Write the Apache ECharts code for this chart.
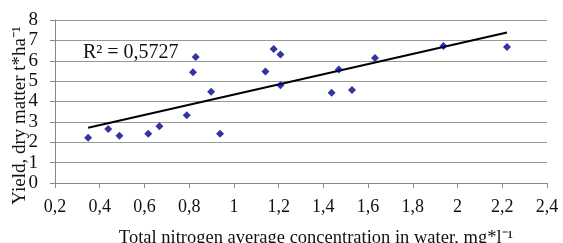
<!DOCTYPE html>
<html>
<head>
<meta charset="utf-8">
<script src="https://cdn.jsdelivr.net/npm/echarts@6/dist/echarts.min.js"></script>
<style>
  html, body { margin: 0; padding: 0; background: #fff; }
  #chart { width: 563px; height: 243px; }
</style>
</head>
<body>
<div id="chart"></div>
<script>
// nitrogen concentration (mg/l) and yield (t/ha)
const nitrogen = [0.348, 0.438, 0.488, 0.617, 0.667, 0.789, 0.817, 0.829, 0.898, 0.938,
  1.141, 1.178, 1.208, 1.208, 1.437, 1.469, 1.528, 1.631, 1.937, 2.221]
const yieldDm = [2.22, 2.65, 2.32, 2.42, 2.79, 3.33, 5.44, 6.19, 4.48, 2.42,
  5.47, 6.58, 6.31, 4.80, 4.43, 5.57, 4.56, 6.14, 6.73, 6.67]
// linear trend line end points
const trendX = [0.348, 2.221]
const trendY = [2.71, 7.39]
const r2Label = 'R² = 0,5727'

const points = nitrogen.map((x, i) => [x, yieldDm[i]])
const trend = trendX.map((x, i) => [x, trendY[i]])

const font = '"Liberation Serif", "Times New Roman", serif'
const chart = echarts.init(document.getElementById('chart'))

chart.setOption({
  animation: false,
  grid: { left: 55, right: 16, top: 20, bottom: 60, containLabel: false, outerBoundsMode: 'none' },
  xAxis: {
    type: 'value',
    min: 0.2,
    max: 2.4,
    interval: 0.2,
    name: 'Total nitrogen average concentration in water, mg*l⁻¹',
    nameLocation: 'middle',
    nameGap: 46,
    nameMoveOverlap: false,
    nameTextStyle: { fontFamily: font, fontSize: 18.5, color: '#111', padding: [0, 0, 0, 30] },
    axisLine: { show: true, lineStyle: { color: '#888' } },
    axisTick: { show: true, length: 5, lineStyle: { color: '#888' } },
    splitLine: { show: false },
    axisLabel: {
      fontFamily: font, fontSize: 18, color: '#111', margin: 15,
      formatter: v => String(+v.toFixed(1)).replace('.', ',')
    }
  },
  yAxis: {
    type: 'value',
    min: 0,
    max: 8,
    interval: 1,
    name: 'Yield, dry matter t*ha⁻¹',
    nameLocation: 'middle',
    nameGap: 25,
    nameMoveOverlap: false,
    nameTextStyle: { fontFamily: font, fontSize: 19, color: '#111', padding: [0, 28, 0, 0] },
    axisLine: { show: true, lineStyle: { color: '#888' } },
    axisTick: { show: true, length: 5, lineStyle: { color: '#888' } },
    splitLine: { show: true, lineStyle: { color: '#999', width: 1 } },
    axisLabel: { fontFamily: font, fontSize: 19, color: '#111', margin: 17 }
  },
  series: [
    {
      type: 'scatter',
      data: points,
      symbol: 'diamond',
      symbolSize: 8,
      itemStyle: { color: '#00008b' },
      z: 3
    },
    {
      type: 'line',
      data: trend,
      symbol: 'none',
      lineStyle: { color: '#000', width: 2 },
      z: 2
    }
  ],
  graphic: [
    {
      type: 'text',
      left: 83,
      top: 43,
      style: { text: r2Label, font: '20px ' + font, fill: '#111' }
    }
  ]
})
</script>
</body>
</html>
